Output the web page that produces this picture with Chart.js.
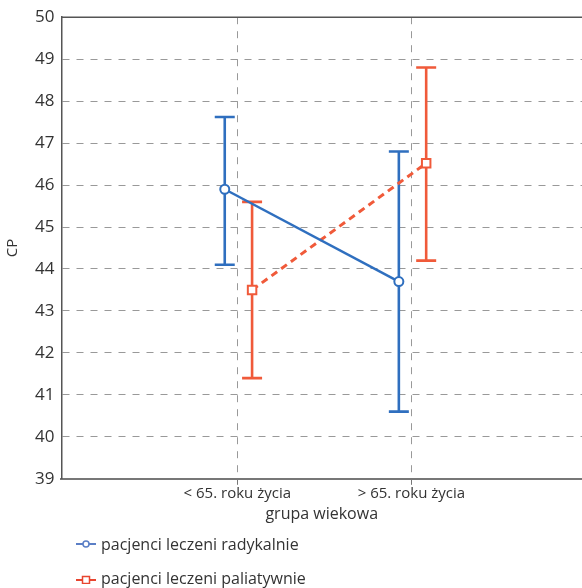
<!DOCTYPE html>
<html>
<head>
<meta charset="utf-8">
<script src="https://cdn.jsdelivr.net/npm/chart.js@4.4.1/dist/chart.umd.min.js"></script>
<style>
  html, body { margin: 0; padding: 0; background: #fff; }
  #wrap { position: relative; width: 582px; height: 588px; }
  #cpChart { position: absolute; left: 0; top: 0; }
  .legend-item { position: absolute; left: 76px; font: 16px "Open Sans", sans-serif; color: #333; display: flex; align-items: center; white-space: nowrap; }
  .legend-item svg { margin-right: 5px; }
</style>
</head>
<body>
<div id="wrap">
  <canvas id="cpChart" width="582" height="588"></canvas>
  <div class="legend-item" style="top:533px">
    <svg width="20" height="10"><line x1="0" y1="5" x2="20" y2="5" stroke="#5b7fc6" stroke-width="2"/><circle cx="10" cy="5" r="3" fill="#fff" stroke="#5b7fc6" stroke-width="1.5"/></svg>pacjenci leczeni radykalnie
  </div>
  <div class="legend-item" style="top:567px">
    <svg width="20" height="12"><line x1="0" y1="8" x2="20" y2="8" stroke="#e8452f" stroke-width="2"/><rect x="6.5" y="4.5" width="7" height="7" fill="#fff" stroke="#e8452f" stroke-width="1.5"/></svg>pacjenci leczeni paliatywnie
  </div>
</div>
<script>
const groups = ['< 65. roku życia', '> 65. roku życia'];
const groupPos = [1, 2];

const radMean = [45.9, 43.7];
const radLow = [44.1, 40.6];
const radHigh = [47.62, 46.8];

const palMean = [43.5, 46.52];
const palLow = [41.4, 44.2];
const palHigh = [45.6, 48.8];

const radShift = -0.072;
const palShift = 0.085;

const blue = '#2f6fbf';
const orange = '#f05a3a';

function points(mean, shift) {
    return mean.map((v, i) => ({ x: groupPos[i] + shift, y: v }));
}

// whiskers drawn from the dataset scales
const errorBars = {
    id: 'errorBars',
    beforeDatasetsDraw(chart) {
        const { ctx, scales: { x, y } } = chart;
        const sets = [
            { low: radLow, high: radHigh, shift: radShift, color: blue },
            { low: palLow, high: palHigh, shift: palShift, color: orange }
        ];
        ctx.save();
        ctx.lineWidth = 2.6;
        sets.forEach(s => {
            ctx.strokeStyle = s.color;
            s.low.forEach((lo, i) => {
                const px = x.getPixelForValue(groupPos[i] + s.shift);
                const pLo = y.getPixelForValue(lo);
                const pHi = y.getPixelForValue(s.high[i]);
                ctx.beginPath();
                ctx.moveTo(px, pLo);
                ctx.lineTo(px, pHi);
                ctx.moveTo(px - 10, pLo);
                ctx.lineTo(px + 10, pLo);
                ctx.moveTo(px - 10, pHi);
                ctx.lineTo(px + 10, pHi);
                ctx.stroke();
            });
        });
        ctx.restore();
    },
    afterDraw(chart) {
        const { ctx, chartArea } = chart;
        ctx.save();
        ctx.strokeStyle = '#555';
        ctx.lineWidth = 1.5;
        ctx.beginPath();
        ctx.moveTo(chartArea.left, chartArea.top);
        ctx.lineTo(chartArea.right, chartArea.top);
        ctx.stroke();
        ctx.restore();
    }
};

new Chart(document.getElementById('cpChart'), {
    type: 'line',
    data: {
        datasets: [{
            label: 'pacjenci leczeni radykalnie',
            data: points(radMean, radShift),
            borderColor: blue,
            borderWidth: 2.5,
            pointStyle: 'circle',
            pointRadius: 4.5,
            pointBorderWidth: 2,
            pointBackgroundColor: '#fff',
            pointBorderColor: blue
        }, {
            label: 'pacjenci leczeni paliatywnie',
            data: points(palMean, palShift),
            borderColor: orange,
            borderWidth: 3,
            borderDash: [7, 5],
            pointStyle: 'rect',
            pointRadius: 6,
            pointBorderWidth: 2,
            pointBackgroundColor: '#fff',
            pointBorderColor: orange
        }]
    },
    options: {
        responsive: false,
        animation: false,
        layout: { autoPadding: false, padding: { top: 17, right: 0, bottom: 60, left: 0 } },
        plugins: {
            legend: { display: false },
            tooltip: { enabled: false }
        },
        scales: {
            x: {
                type: 'linear',
                min: -0.01,
                max: 2.98,
                afterBuildTicks: axis => { axis.ticks = groupPos.map(v => ({ value: v })); },
                afterFit: axis => { axis.paddingLeft = 0; axis.paddingRight = 0; },
                ticks: {
                    callback: v => groups[groupPos.indexOf(v)],
                    color: '#333',
                    font: { family: 'Open Sans', size: 15 },
                    padding: 0,
                    maxRotation: 0
                },
                grid: {
                    color: '#999',
                    tickLength: 6,
                    tickColor: '#777',
                    tickBorderDash: []
                },
                border: { color: '#777', width: 2, dash: [7, 7] },
                title: {
                    display: true,
                    text: 'grupa wiekowa',
                    color: '#333',
                    font: { family: 'Open Sans', size: 16 },
                    padding: { top: 2 }
                }
            },
            y: {
                min: 39,
                max: 50,
                ticks: {
                    stepSize: 1,
                    color: '#333',
                    font: { family: 'Open Sans', size: 17 },
                    padding: 7
                },
                grid: {
                    color: ctx => (ctx.tick.value === 39 || ctx.tick.value === 50) ? 'rgba(0,0,0,0)' : '#999',
                    drawTicks: false
                },
                border: { color: '#555', width: 1.5, dash: [7, 7] },
                title: {
                    display: true,
                    text: 'CP',
                    color: '#333',
                    font: { family: 'Open Sans', size: 15 },
                    padding: { top: 4, bottom: 6 }
                }
            }
        }
    },
    plugins: [errorBars]
});
</script>
</body>
</html>
